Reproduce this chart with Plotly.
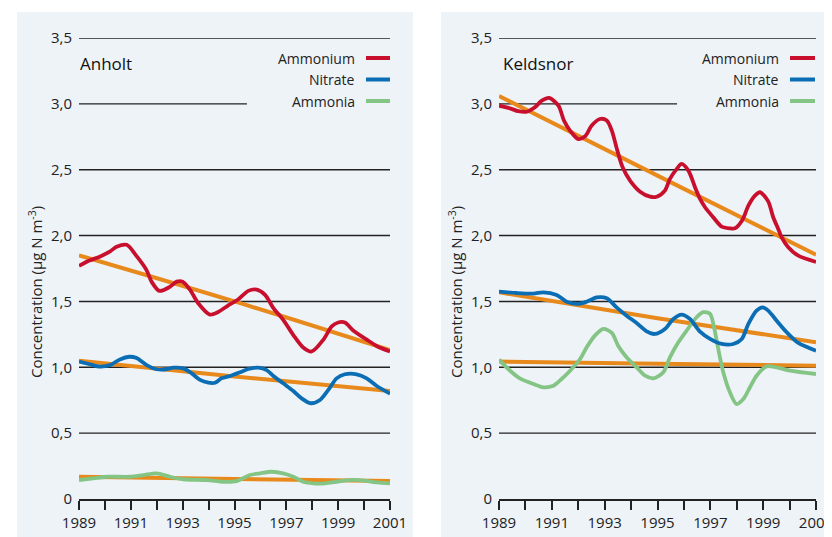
import plotly.graph_objects as go

# ---------------- data ----------------
tick_years = list(range(1989, 2002))
label_years = [1989, 1991, 1993, 1995, 1997, 1999, 2001]
label_year_text = ["1989", "1991", "1993", "1995", "1997", "1999", "2001"]
y_ticks = [0, 0.5, 1.0, 1.5, 2.0, 2.5, 3.0, 3.5]
y_tick_labels = ["0", "0,5", "1,0", "1,5", "2,0", "2,5", "3,0", "3,5"]
series_names = ["Ammonium", "Nitrate", "Ammonia"]
station_names = ["Anholt", "Keldsnor"]

# Anholt
anholt_ammonium_x = [1989.0, 1989.4, 1989.8, 1990.2, 1990.45, 1990.84, 1991.2, 1991.6, 1991.8, 1992.1,
                     1992.5, 1992.77, 1993.0, 1993.28, 1993.6, 1994.05, 1994.37, 1994.76, 1995.15,
                     1995.53, 1995.86, 1996.18, 1996.5, 1996.88, 1997.27, 1997.65, 1997.98, 1998.43,
                     1998.75, 1999.0, 1999.26, 1999.58, 2000.1, 2000.5, 2001.0]
anholt_ammonium_y = [1.77, 1.81, 1.84, 1.88, 1.915, 1.93, 1.85, 1.74, 1.65, 1.58,
                     1.61, 1.65, 1.65, 1.59, 1.486, 1.40, 1.42, 1.47, 1.516,
                     1.58, 1.59, 1.55, 1.45, 1.36, 1.245, 1.15, 1.12, 1.21,
                     1.31, 1.34, 1.34, 1.28, 1.21, 1.16, 1.12]
anholt_nitrate_x = [1989.0, 1989.42, 1989.81, 1990.2, 1990.58, 1990.94, 1991.22, 1991.61, 1992.0, 1992.38,
                    1992.64, 1993.02, 1993.35, 1993.67, 1993.99, 1994.25, 1994.5, 1994.83, 1995.21,
                    1995.53, 1995.92, 1996.24, 1996.5, 1996.88, 1997.27, 1997.59, 1997.94, 1998.3,
                    1998.62, 1998.94, 1999.26, 1999.71, 2000.1, 2000.49, 2001.0]
anholt_nitrate_y = [1.043, 1.023, 1.005, 1.017, 1.06, 1.08, 1.07, 1.017, 0.985, 0.985,
                    0.997, 0.992, 0.954, 0.904, 0.883, 0.883, 0.916, 0.934, 0.962,
                    0.987, 0.997, 0.979, 0.934, 0.878, 0.820, 0.764, 0.727, 0.752,
                    0.828, 0.916, 0.947, 0.947, 0.916, 0.858, 0.80]
anholt_ammonia_x = [1989.0, 1989.55, 1990.07, 1990.97, 1991.48, 1992.0, 1992.51, 1993.02, 1993.93, 1994.57,
                    1995.08, 1995.6, 1995.98, 1996.43, 1996.88, 1997.27, 1997.65, 1998.04, 1998.49,
                    1998.94, 1999.39, 1999.84, 2000.49, 2001.0]
anholt_ammonia_y = [0.144, 0.157, 0.169, 0.169, 0.182, 0.195, 0.169, 0.15, 0.144, 0.131,
                    0.136, 0.182, 0.195, 0.207, 0.195, 0.169, 0.131, 0.119, 0.119,
                    0.131, 0.144, 0.144, 0.126, 0.119]
anholt_trend_x = [1989, 1995, 2001]
anholt_ammonium_trend = [1.85, 1.50, 1.13]
anholt_nitrate_trend = [1.05, 0.93, 0.82]
anholt_ammonia_trend = [0.169, 0.152, 0.136]

# Keldsnor
keldsnor_ammonium_x = [1989.0, 1989.42, 1989.73, 1990.05, 1990.36, 1990.62, 1990.9, 1991.25, 1991.46, 1991.69,
                       1992.0, 1992.26, 1992.51, 1992.82, 1993.08, 1993.27, 1993.48, 1993.68, 1993.96,
                       1994.34, 1994.72, 1994.97, 1995.28, 1995.47, 1995.73, 1995.91, 1996.17, 1996.42,
                       1996.61, 1996.8, 1997.11, 1997.43, 1997.74, 1997.93, 1998.22, 1998.44, 1998.69,
                       1998.88, 1999.19, 1999.38, 1999.57, 1999.7, 1999.95, 2000.33, 2001.0]
keldsnor_ammonium_y = [2.986, 2.966, 2.944, 2.94, 2.974, 3.024, 3.045, 2.986, 2.873, 2.797,
                       2.733, 2.754, 2.835, 2.885, 2.873, 2.797, 2.645, 2.518, 2.417,
                       2.333, 2.295, 2.295, 2.341, 2.43, 2.506, 2.544, 2.493, 2.367,
                       2.278, 2.215, 2.139, 2.068, 2.055, 2.055, 2.121, 2.227, 2.303,
                       2.329, 2.26, 2.139, 2.05, 1.987, 1.911, 1.847, 1.80]
keldsnor_nitrate_x = [1989.0, 1989.67, 1990.3, 1990.68, 1991.18, 1991.56, 1992.0, 1992.32, 1992.7, 1993.08,
                      1993.45, 1993.83, 1994.21, 1994.59, 1994.9, 1995.28, 1995.6, 1995.91, 1996.23,
                      1996.61, 1996.99, 1997.43, 1997.87, 1998.19, 1998.44, 1998.75, 1998.98, 1999.19,
                      1999.51, 1999.89, 2000.33, 2001.0]
keldsnor_nitrate_y = [1.574, 1.564, 1.56, 1.569, 1.549, 1.498, 1.481, 1.498, 1.531, 1.524,
                      1.455, 1.392, 1.336, 1.273, 1.253, 1.291, 1.367, 1.40, 1.367,
                      1.27, 1.215, 1.177, 1.177, 1.215, 1.329, 1.43, 1.455, 1.43,
                      1.354, 1.266, 1.185, 1.126]
keldsnor_ammonia_x = [1989.0, 1989.42, 1989.79, 1990.3, 1990.68, 1991.06, 1991.37, 1991.69, 1992.07, 1992.32,
                      1992.63, 1992.95, 1993.27, 1993.51, 1993.83, 1994.21, 1994.53, 1994.84, 1995.22,
                      1995.47, 1995.79, 1996.1, 1996.48, 1996.73, 1996.99, 1997.14, 1997.3, 1997.49,
                      1997.74, 1997.99, 1998.25, 1998.5, 1998.75, 1999.13, 1999.51, 2000.01, 2001.0]
keldsnor_ammonia_y = [1.058, 0.974, 0.916, 0.873, 0.848, 0.86, 0.911, 0.974, 1.063, 1.152,
                      1.24, 1.291, 1.261, 1.164, 1.076, 1.0, 0.936, 0.916, 0.962,
                      1.076, 1.19, 1.278, 1.38, 1.418, 1.405, 1.304, 1.139, 0.962,
                      0.81, 0.721, 0.759, 0.848, 0.936, 1.007, 0.999, 0.974, 0.949]
keldsnor_trend_x = [1989, 1995, 2001]
keldsnor_ammonium_trend = [3.06, 2.455, 1.855]
keldsnor_nitrate_trend = [1.569, 1.372, 1.19]
keldsnor_ammonia_trend = [1.043, 1.027, 1.012]

# ---------------- style ----------------
# the page body has an 8px margin, so the figure is sized to end at the window edge
OFF = 8
W, H = 832 - OFF, 537 - OFF
RED = "#c8102e"
BLUE = "#0b6db3"
GREEN = "#84c585"
ORANGE = "#e8891c"
PANEL_BG = "#eef3f8"
GRID = "#222222"
TXT = "#222222"
FONT = "Open Sans"
colors = [RED, BLUE, GREEN]

def px_x(p):
    return (p - OFF) / W

def px_y(p):
    return 1 - (p - OFF) / H

y_dom = [px_y(499), px_y(38)]
panels = [
    dict(xd=[px_x(79), px_x(390)], bg=[17, 413], title_x=79, leg_text_x=356, leg_seg=[366, 390],
         ytitle_x=35, grid30_end=1995.48),
    dict(xd=[px_x(499), px_x(816)], bg=[441, 832], title_x=502, leg_text_x=780, leg_seg=[790, 815],
         ytitle_x=455, grid30_end=1995.74),
]

data = [
    dict(x=[anholt_ammonium_x, anholt_nitrate_x, anholt_ammonia_x],
         y=[anholt_ammonium_y, anholt_nitrate_y, anholt_ammonia_y],
         tx=anholt_trend_x, ty=[anholt_ammonium_trend, anholt_nitrate_trend, anholt_ammonia_trend]),
    dict(x=[keldsnor_ammonium_x, keldsnor_nitrate_x, keldsnor_ammonia_x],
         y=[keldsnor_ammonium_y, keldsnor_nitrate_y, keldsnor_ammonia_y],
         tx=keldsnor_trend_x, ty=[keldsnor_ammonium_trend, keldsnor_nitrate_trend, keldsnor_ammonia_trend]),
]

fig = go.Figure()
shapes = []
annotations = []

for i, (pan, d) in enumerate(zip(panels, data)):
    xa = "x" if i == 0 else "x2"
    ya = "y" if i == 0 else "y2"
    # trends underneath
    for ty in d["ty"]:
        fig.add_trace(go.Scatter(x=d["tx"], y=ty, mode="lines", xaxis=xa, yaxis=ya,
                                 line=dict(color=ORANGE, width=4, shape="spline"),
                                 showlegend=False, hoverinfo="skip"))
    # curves: ammonia, ammonium, nitrate (nitrate on top)
    for k in [2, 0, 1]:
        fig.add_trace(go.Scatter(x=d["x"][k], y=d["y"][k], mode="lines", xaxis=xa, yaxis=ya,
                                 name=series_names[k],
                                 line=dict(color=colors[k], width=3.8, shape="spline", smoothing=0.8),
                                 showlegend=False))
    # panel background
    shapes.append(dict(type="rect", xref="paper", yref="paper",
                       x0=px_x(pan["bg"][0]), x1=px_x(pan["bg"][1]), y0=0, y1=px_y(12),
                       fillcolor=PANEL_BG, line=dict(width=0), layer="below"))
    # gridlines
    for v in y_ticks[1:]:
        x1 = pan["grid30_end"] if v == 3.0 else 2001
        shapes.append(dict(type="line", xref=xa, yref=ya, x0=1989, x1=x1, y0=v, y1=v,
                           line=dict(color=GRID, width=1.4), layer="below"))
    # station title
    annotations.append(dict(text=station_names[i], xref="paper", yref="paper",
                            x=px_x(pan["title_x"] - 1), y=px_y(63), xanchor="left", yanchor="middle",
                            showarrow=False, font=dict(family=FONT, size=17, color="#111")))
    # legend
    for k, ly in enumerate([58, 79.5, 101]):
        annotations.append(dict(text=series_names[k], xref="paper", yref="paper",
                                x=px_x(pan["leg_text_x"] + 1), y=px_y(ly), xanchor="right", yanchor="middle",
                                showarrow=False, font=dict(family=FONT, size=14, color=TXT)))
        shapes.append(dict(type="line", xref="paper", yref="paper",
                           x0=px_x(pan["leg_seg"][0]), x1=px_x(pan["leg_seg"][1]),
                           y0=px_y(ly), y1=px_y(ly), line=dict(color=colors[k], width=4)))
    # y-axis title
    annotations.append(dict(text="Concentration (µg N m<sup>-3</sup>)", xref="paper", yref="paper",
                            x=px_x(pan["ytitle_x"]), y=px_y(292), xanchor="center", yanchor="middle",
                            textangle=-90, showarrow=False,
                            font=dict(family=FONT, size=15, color=TXT)))

axis_x = dict(range=[1989, 2001], tickvals=label_years, ticktext=label_year_text,
              ticks="outside", ticklen=9, tickwidth=1.5, tickcolor=GRID, automargin=False,
              minor=dict(tickvals=tick_years, ticks="outside", ticklen=9, tickwidth=1.5,
                         tickcolor=GRID, showgrid=False),
              ticklabeloverflow="allow",
              showline=True, linecolor=GRID, linewidth=1.5, showgrid=False, zeroline=False,
              tickfont=dict(family=FONT, size=15, color=TXT))
axis_y = dict(range=[0, 3.5], tickvals=y_ticks, ticktext=y_tick_labels, showgrid=False,
              zeroline=False, showline=False, ticks="", ticklabelstandoff=6, automargin=False,
              tickfont=dict(family=FONT, size=15, color=TXT), domain=y_dom)

fig.update_layout(
    width=W, height=H,
    margin=dict(l=0, r=0, t=0, b=0, pad=0),
    paper_bgcolor="white", plot_bgcolor="rgba(0,0,0,0)",
    xaxis=dict(axis_x, domain=panels[0]["xd"], anchor="y"),
    yaxis=dict(axis_y, anchor="x"),
    xaxis2=dict(axis_x, domain=panels[1]["xd"], anchor="y2"),
    yaxis2=dict(axis_y, anchor="x2"),
    shapes=shapes, annotations=annotations, showlegend=False,
    font=dict(family=FONT, color=TXT),
)

fig.write_html("out.html")
